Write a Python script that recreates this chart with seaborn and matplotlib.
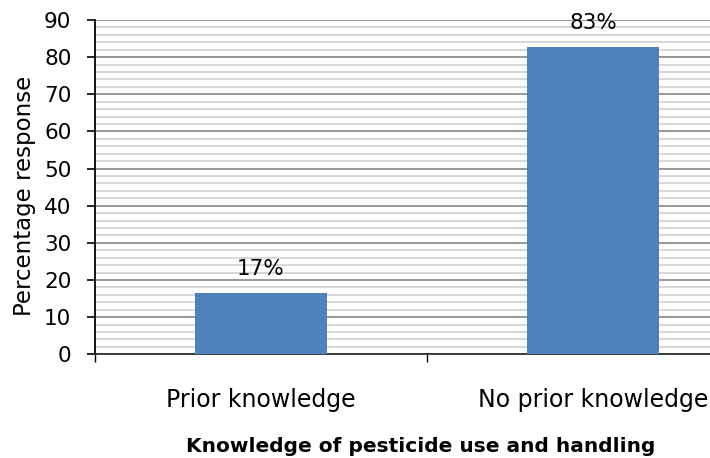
import matplotlib
matplotlib.use("Agg")
import matplotlib.pyplot as plt
import seaborn as sns
import pandas as pd
from matplotlib.ticker import MultipleLocator, FixedLocator, NullFormatter

categories = ["Prior knowledge", "No prior knowledge"]
values = [16.6, 82.7]
value_labels = ["17%", "83%"]
y_ticks = [0, 10, 20, 30, 40, 50, 60, 70, 80, 90]
x_title = "Knowledge of pesticide use and handling"
y_title = "Percentage response"

sns.set_theme(style="white")
plt.rcParams["font.family"] = ["DejaVu Sans"]
plt.rcParams["text.color"] = "black"
plt.rcParams["axes.labelcolor"] = "black"
plt.rcParams["xtick.color"] = "black"
plt.rcParams["ytick.color"] = "black"

df = pd.DataFrame({"category": categories, "value": values})

fig = plt.figure(figsize=(7.10, 4.58), dpi=100)
ax = fig.add_axes([95 / 710, 1 - 354.3 / 458, 664 / 710, 334.3 / 458])

sns.barplot(data=df, x="category", y="value", color="#4F81BD", width=0.4,
            saturation=1, linewidth=0, ax=ax, zorder=3)

ax.set_xlim(-0.5, 1.5)
ax.set_ylim(0, 90)
ax.set_yticks(y_ticks)
ax.yaxis.set_minor_locator(MultipleLocator(2))
ax.set_axisbelow(True)
ax.yaxis.grid(True, which="minor", color="#cdcdcd", lw=1.1, zorder=0)
ax.yaxis.grid(True, which="major", color="#868686", lw=1.2, zorder=1)
ax.xaxis.grid(False)

ax.tick_params(axis="y", which="major", direction="out", length=6, width=1.2,
               color="black", labelcolor="black", labelsize=15.5, pad=11, left=True)
ax.tick_params(axis="y", which="minor", length=0)
ax.tick_params(axis="x", which="major", length=0, labelsize=17, pad=24,
               labelcolor="black")
ax.xaxis.set_minor_locator(FixedLocator([-0.5, 0.5, 1.5]))
ax.xaxis.set_minor_formatter(NullFormatter())
ax.tick_params(axis="x", which="minor", direction="out", length=6, width=1.0,
               color="black", bottom=True)

for s in ["top", "right"]:
    ax.spines[s].set_visible(False)
ax.spines["left"].set_color("black")
ax.spines["left"].set_linewidth(1.3)
ax.spines["bottom"].set_color("#303030")
ax.spines["bottom"].set_linewidth(1.3)

ax.set_xlabel("")
ax.set_ylabel(y_title, fontsize=16.5, color="black")
ax.yaxis.set_label_coords(-0.0896, 0.4735)

ax.bar_label(ax.containers[0], labels=value_labels, padding=10, fontsize=15.5,
             color="black")

fig.text(421 / 710, 1 - 446 / 458, x_title, ha="center", va="center",
         fontsize=14.5, fontweight="bold", color="black")

fig.savefig("out.png", dpi=100)
